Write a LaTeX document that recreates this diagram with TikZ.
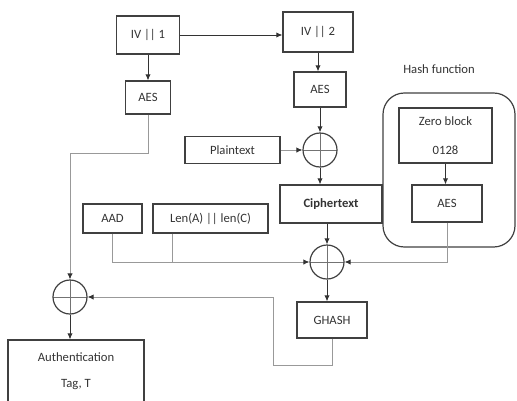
\documentclass[tikz,border=0pt]{standalone}
\usepackage{fontspec}
\setmainfont{Carlito}
\usetikzlibrary{arrows.meta,calc}

\begin{document}
\begin{tikzpicture}[x=0.75pt,y=-0.75pt,>={Latex[length=4.5pt,width=4pt]},
    font=\fontsize{9.5}{11}\selectfont,
    blk/.style 2 args={draw=black!75,line width=0.9pt,text=black!80,inner sep=0pt,
      minimum width=#1*0.75pt,minimum height=#2*0.75pt},
    xorop/.style={draw=black!75,line width=0.9pt,circle,inner sep=0pt,minimum size=25.5pt,
      path picture={\draw[black!55,line width=0.5pt]
        (path picture bounding box.north) -- (path picture bounding box.south)
        (path picture bounding box.west) -- (path picture bounding box.east);}},
    flow/.style={draw=black!80,line width=0.7pt,->},
    wire/.style={draw=black!40,line width=0.6pt,-{Latex[length=4.5pt,width=4pt,black!80]}}]
  \useasboundingbox (0,0) rectangle (517,400);

  % counter blocks
  \node[blk={63}{38}] (iv1) at (148,35) {IV || 1};
  \node[blk={45}{33}] (aes1) at (148,97.5) {AES};
  \node[blk={70}{40}] (iv2) at (318,32) {IV || 2};
  \node[blk={52}{35}] (aes2) at (320,89.5) {AES};
  \node[xorop] (xorc) at (320,150) {};
  \node[blk={95}{27}] (plain) at (232.5,150) {Plaintext};
  \node[blk={102}{38}] (cipher) at (331,204) {\textbf{Ciphertext}};

  % hash function
  \node[draw=black!75,line width=0.9pt,rounded corners=16pt,
    minimum width=99pt,minimum height=115.5pt] (hashbox) at (449,170) {};
  \node[text=black!80] (hashlbl) at (439,69) {Hash function};
  \node[blk={93}{55},align=center] (zero) at (445.5,135.5) {Zero block\\[10.5pt]0128};
  \node[blk={70}{37}] (aes3) at (447,203.5) {AES};

  % authentication part
  \node[blk={59}{29}] (aad) at (112.5,218.5) {AAD};
  \node[blk={115}{29}] (lenac) at (210.5,218.5) {Len(A) || len(C)};
  \node[xorop] (xorh) at (327,262) {};
  \node[blk={70}{36}] (ghash) at (332,320) {GHASH};
  \node[xorop] (xort) at (70,297) {};
  \node[blk={136}{62},align=center] (auth) at (76,371) {Authentication\\[8.5pt]Tag, T};

  \coordinate (lenx) at ($(lenac.south west)+(20,0)$);
  \coordinate (fbk) at (273,365);

  \draw[flow] (iv1.east) -- (iv1.east -| iv2.west);
  \draw[flow] (iv1.south) -- (aes1.north);
  \draw[flow] (iv2.south) -- (iv2.south |- aes2.north);
  \draw[flow] (aes2.south) -- (xorc.north);
  \draw[wire] (plain.east) -- (xorc.west);
  \draw[flow] (xorc.south) -- (xorc.south |- cipher.north);
  \draw[flow] (zero.south) -- (zero.south |- aes3.north);
  \draw[flow] (cipher.south -| xorh) -- (xorh.north);
  \draw[flow] (xorh.south) -- (xorh.south |- ghash.north);
  \draw[wire] (aad.south) |- (xorh.west);
  \draw[draw=black!40,line width=0.6pt] (lenx) -- (lenx |- xorh.west);
  \draw[wire] (aes3.south) |- (xorh.east);
  \draw[wire] (aes1.south) -- ++(0,39) -| (xort.north);
  \draw[wire] (ghash.south) |- (fbk) |- (xort.east);
  \draw[flow] (xort.south) -- (xort.south |- auth.north);
\end{tikzpicture}
\end{document}
